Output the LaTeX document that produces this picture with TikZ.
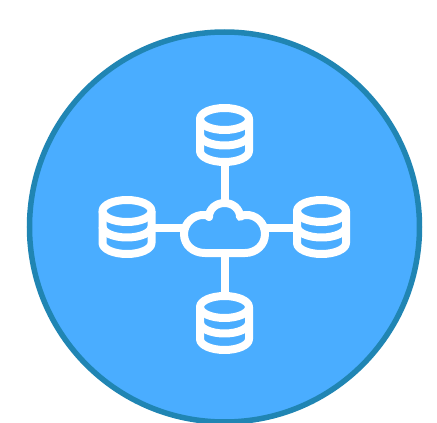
\documentclass[tikz,border=0pt]{standalone}
\definecolor{discfill}{HTML}{4AADFF}
\definecolor{discedge}{HTML}{2085B3}
\tikzset{
  disc/.style={fill=discfill,draw=discedge,line width=5.5pt},
  icon/.style={draw=white,line width=8pt,line join=round,line cap=butt},
  linkline/.style={draw=white,line width=8pt},
  dbicon/.pic={
    \draw[icon] (0,0) ellipse [x radius=24.5,y radius=11];
    \draw[icon] (-24.5,0) -- (-24.5,32) arc[start angle=180,end angle=0,x radius=24.5,y radius=11] -- (24.5,0);
    \draw[icon] (-24.5,15.5) arc[start angle=180,end angle=0,x radius=24.5,y radius=11];
  }
}
\begin{document}
\begin{tikzpicture}[x=1pt,y=-1pt]
\useasboundingbox (0,0) rectangle (437,423);
\clip (0,0) rectangle (437,423);
\draw[disc] (224.5,227) circle [radius=195];
\coordinate (topdb) at (224.5,160);
\coordinate (botdb) at (224.5,300);
\coordinate (leftdb) at (150,227.5);
\coordinate (rightdb) at (300,227.5);
\coordinate (cloudtop) at (224.5,203);
\coordinate (cloudbot) at (224.5,253);
\coordinate (cloudleft) at (184,227.5);
\coordinate (cloudright) at (265,227.5);
\draw[linkline] (topdb) -- (cloudtop);
\draw[linkline] (cloudbot) -- (botdb);
\draw[linkline] (leftdb) -- (cloudleft);
\draw[linkline] (cloudright) -- (rightdb);
\pic at (224.5,119) {dbicon};
\pic at (127,211) {dbicon};
\pic at (321.5,211) {dbicon};
\pic at (224.5,307) {dbicon};
\draw[icon,fill=discfill] (205,253)
  .. controls (193,253) and (184,245) .. (184,234)
  .. controls (184,223) and (194,214) .. (205,215)
  .. controls (207,215) and (208,216) .. (209,217)
  .. controls (209,209) and (216,203) .. (224.5,203)
  .. controls (233,203) and (240,209) .. (240,217)
  .. controls (241,216) and (243,215) .. (245,215)
  .. controls (256,214) and (265,223) .. (265,234)
  .. controls (265,245) and (256,253) .. (245,253)
  -- cycle;
\end{tikzpicture}
\end{document}
